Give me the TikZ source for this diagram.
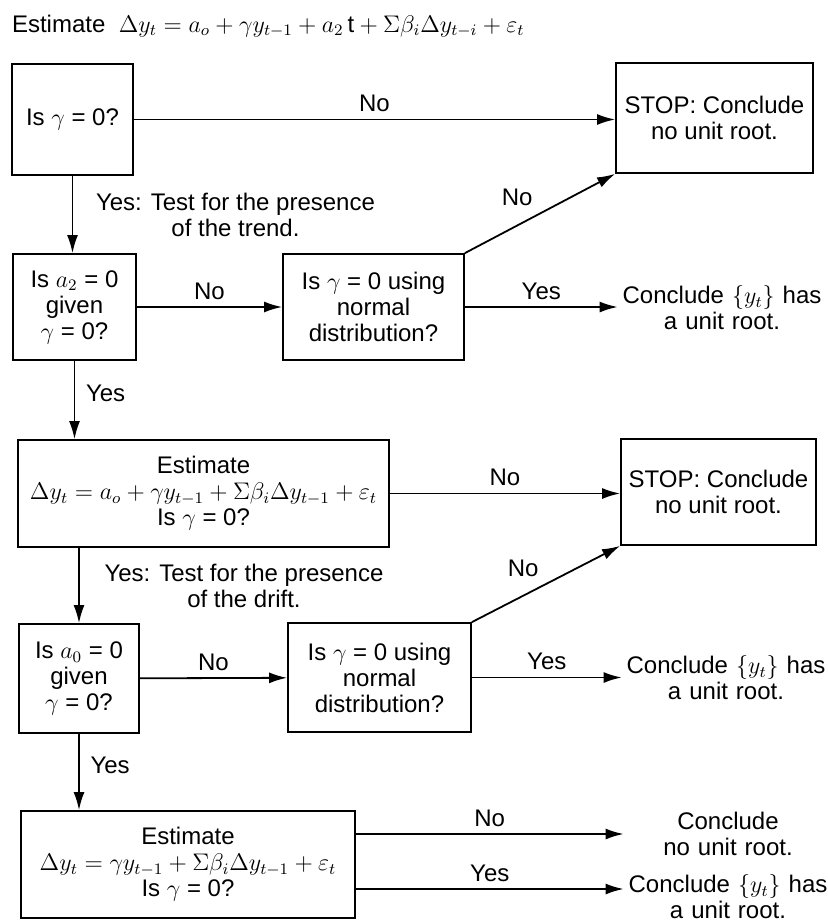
\documentclass[tikz,border=0pt]{standalone}
\usepackage{fontspec}
\setmainfont{Liberation Sans}
\usetikzlibrary{arrows.meta,positioning}
\begin{document}
\begin{tikzpicture}[x=0.5pt,y=-0.5pt,
        font=\fontsize{12}{13}\selectfont,
        box/.style={draw,line width=0.9pt,align=center,inner sep=2pt},
        concl/.style={align=center,text width=104pt,inner sep=0pt},
        arr/.style={line width=0.9pt,-{Latex[length=9pt,width=5.5pt]}}]
    \useasboundingbox(0,0)rectangle(827,920);
    \node[anchor=west](est)at(5,26){Estimate \ $\Delta y_t = a_o + \gamma y_{t-1} + a_2\,\mathrm{t} + \Sigma\beta_i\Delta y_{t-i} + \varepsilon_t$};
    % first test
    \node[box,minimum width=60.5pt,minimum height=55.5pt](g1)at(72.5,119.5){Is $\gamma$ = 0?};
    \node[box,minimum width=98.5pt,minimum height=55pt](stop1)at(714.5,118){STOP: Conclude\\no unit root.};
    \node[box,minimum width=61.5pt,minimum height=53pt](g2)at(74.5,307){Is $a_2$ = 0\\given\\$\gamma$ = 0?};
    \node[box,minimum width=90.5pt,minimum height=53pt](n1)at(373.5,307){Is $\gamma$ = 0 using\\normal\\distribution?};
    \node[concl](c1)at(722,308){Conclude $\{y_t\}$ has\\a unit root.};
    % second test
    \node[box,minimum width=185.5pt,minimum height=53.5pt](g3)at(203.5,493.5){Estimate\\$\Delta y_t = a_o + \gamma y_{t-1} + \Sigma\beta_i\Delta y_{t-1} + \varepsilon_t$\\Is $\gamma$ = 0?};
    \node[box,minimum width=97.5pt,minimum height=53pt](stop2)at(718.5,492){STOP: Conclude\\no unit root.};
    \node[box,minimum width=60pt,minimum height=54.5pt](g4)at(79,678.5){Is $a_0$ = 0\\given\\$\gamma$ = 0?};
    \node[box,minimum width=91.5pt,minimum height=54.5pt](n2)at(379.5,677.5){Is $\gamma$ = 0 using\\normal\\distribution?};
    \node[concl](c2)at(726,678){Conclude $\{y_t\}$ has\\a unit root.};
    % third test
    \node[box,minimum width=167pt,minimum height=53.5pt](g5)at(188,864.5){Estimate\\$\Delta y_t = \gamma y_{t-1} + \Sigma\beta_i\Delta y_{t-1} + \varepsilon_t$\\Is $\gamma$ = 0?};
    \node[concl](c3)at(728,834){Conclude\\no unit root.};
    \node[concl](c4)at(728,897){Conclude $\{y_t\}$ has\\a unit root.};
    % arrows
    \draw[arr](g1.east)--(g1.east-|stop1.west)node[midway,above]{No};
    \draw[arr](g1.south)--(g1.south|-g2.north)node[midway,right=8pt,align=center]{Yes: Test for the presence\\of the trend.};
    \draw[arr](g2)--(n1)node[midway,above]{No};
    \draw[arr](n1.east)--(n1.east-|c1.west)node[midway,above]{Yes};
    \draw[arr](n1.north east)--(stop1.south west)node[midway,above left]{No};
    \draw[arr](g2.south)--(g2.south|-g3.north)node[pos=0.41,right=2pt]{Yes};
    \draw[arr](g3.east)--(g3.east-|stop2.west)node[midway,above]{No};
    \draw[arr](g4.north|-g3.south)--(g4.north)node[midway,right=9pt,align=center]{Yes: Test for the presence\\of the drift.};
    \draw[arr](g4)--(n2)node[midway,above]{No};
    \draw[arr](n2.east)--(n2.east-|c2.west)node[midway,above]{Yes};
    \draw[arr](n2.north east)--(stop2.south west)node[midway,above left]{No};
    \draw[arr](g4.south)--(g4.south|-g5.north)node[pos=0.41,right=2pt]{Yes};
    \draw[arr](c3.west-|g5.east)--(c3.west)node[midway,above]{No};
    \draw[arr]([yshift=-12.25pt]g5.east)--([yshift=-12.25pt]g5.east-|c4.west)node[midway,above]{Yes};
\end{tikzpicture}
\end{document}
